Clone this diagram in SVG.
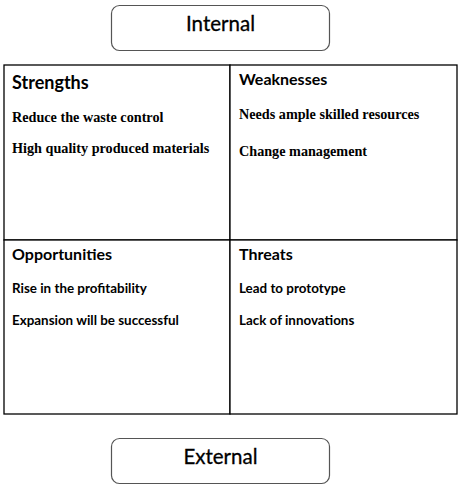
<svg xmlns="http://www.w3.org/2000/svg" width="462" height="488" viewBox="0 0 462 488">
<style>
.lbl{font-family:Lato,"Liberation Sans",sans-serif;fill:#000;stroke:#000;stroke-width:0.3}
.pill{fill:#fff;stroke:#555;stroke-width:1.2}
.cell{fill:#fff;stroke:#000;stroke-width:1.3}
.head{font-family:Lato,"Liberation Sans",sans-serif;font-weight:bold;font-size:16px}
.sans{font-family:Lato,"Liberation Sans",sans-serif;font-weight:bold;font-size:13.4px}
.serif{font-family:"Liberation Serif",serif;font-weight:bold;font-size:14.2px}
</style>
<rect width="462" height="488" fill="#fff"/>
<g id="internal">
<rect class="pill" x="111.5" y="5.5" width="218" height="45" rx="8"/>
<text class="lbl" x="220.5" y="31" font-size="20.5" text-anchor="middle">Internal</text>
</g>
<g id="strengths">
<rect class="cell" x="4" y="65" width="226" height="175"/>
<text class="head" x="12" y="89" style="font-size:18px">Strengths</text>
<text class="serif" x="12" y="122">Reduce the waste control</text>
<text class="serif" x="12" y="152.5">High quality produced materials</text>
</g>
<g id="weaknesses">
<rect class="cell" x="230" y="65" width="227" height="175"/>
<text class="head" x="239" y="85">Weaknesses</text>
<text class="serif" x="239" y="118.5">Needs ample skilled resources</text>
<text class="serif" x="239" y="156">Change management</text>
</g>
<g id="opportunities">
<rect class="cell" x="4" y="240" width="226" height="174"/>
<text class="head" x="12" y="260">Opportunities</text>
<text class="sans" x="12" y="293">Rise in the profitability</text>
<text class="sans" x="12" y="325">Expansion will be successful</text>
</g>
<g id="threats">
<rect class="cell" x="230" y="240" width="227" height="174"/>
<text class="head" x="239" y="260">Threats</text>
<text class="sans" x="239" y="293">Lead to prototype</text>
<text class="sans" x="239" y="325">Lack of innovations</text>
</g>
<g id="external">
<rect class="pill" x="111.5" y="438.5" width="218" height="45" rx="8"/>
<text class="lbl" x="220.5" y="464" font-size="20.5" text-anchor="middle">External</text>
</g>
<g id="connectors"></g>
</svg>
